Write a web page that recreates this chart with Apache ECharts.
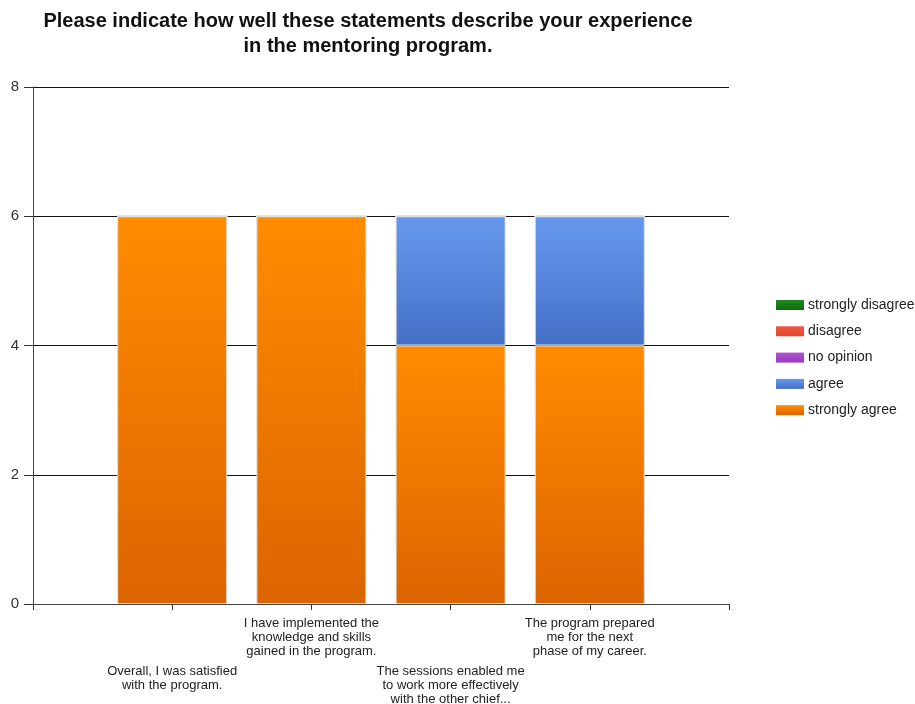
<!DOCTYPE html>
<html>
<head>
<meta charset="utf-8">
<script src="https://cdn.jsdelivr.net/npm/echarts@6/dist/echarts.min.js"></script>
<style>
  html, body { margin: 0; padding: 0; background: #ffffff; }
  #chart { width: 915px; height: 704px; }
</style>
</head>
<body>
<div id="chart"></div>
<script>
// Survey statements (blank slots at both ends keep the bars off the axes)
const categories = [
  '',
  'Overall, I was satisfied\nwith the program.',
  'I have implemented the\nknowledge and skills\ngained in the program.',
  'The sessions enabled me\nto work more effectively\nwith the other chief...',
  'The program prepared\nme for the next\nphase of my career.',
  ''
];

// Response counts per statement
const stronglyDisagree = ['-', 0, 0, 0, 0, '-'];
const disagree         = ['-', 0, 0, 0, 0, '-'];
const noOpinion        = ['-', 0, 0, 0, 0, '-'];
const agree            = ['-', 0, 0, 2, 2, '-'];
const stronglyAgree    = ['-', 6, 6, 4, 4, '-'];

const legendOrder = ['strongly disagree', 'disagree', 'no opinion', 'agree', 'strongly agree'];
const yTicks = { min: 0, max: 8, step: 2 };

const FONT = 'Liberation Sans, Arial, sans-serif';

function grad(top, bottom) {
  return new echarts.graphic.LinearGradient(0, 0, 0, 1, [
    { offset: 0, color: top },
    { offset: 1, color: bottom }
  ]);
}

function barSeries(name, data, top, bottom) {
  return {
    name: name,
    type: 'bar',
    stack: 'responses',
    xAxisIndex: 0,
    barWidth: 110,
    data: data,
    itemStyle: {
      color: grad(top, bottom),
      borderColor: '#dddddd',
      borderWidth: 1
    },
    emphasis: { disabled: true }
  };
}

const chart = echarts.init(document.getElementById('chart'));

const labelBase = {
  interval: 0,
  color: '#222',
  fontFamily: FONT,
  fontSize: 13,
  lineHeight: 14,
  align: 'center',
  verticalAlign: 'top'
};

chart.setOption({
  animation: false,
  backgroundColor: '#ffffff',
  title: {
    text: 'Please indicate how well these statements describe your experience\nin the mentoring program.',
    left: 363,
    top: 4,
    textAlign: 'center',
    textStyle: {
      fontFamily: FONT,
      fontSize: 20,
      fontWeight: 'bold',
      color: '#111',
      lineHeight: 25
    }
  },
  legend: {
    orient: 'vertical',
    left: 771,
    top: 293,
    itemWidth: 28,
    itemHeight: 10,
    itemGap: 12.3,
    icon: 'rect',
    data: legendOrder,
    itemStyle: { borderWidth: 0 },
    textStyle: { fontFamily: FONT, fontSize: 14, color: '#222', padding: [0, 0, 0, -1] }
  },
  grid: {
    left: 33, right: 186, top: 87, bottom: 100,
    containLabel: false,
    outerBoundsMode: 'none'
  },
  xAxis: [
    {
      type: 'category',
      data: categories,
      boundaryGap: false,
      axisLine: { show: true, lineStyle: { color: '#444', width: 1 } },
      axisTick: { show: true, interval: 0, length: 6, lineStyle: { color: '#333' } },
      axisLabel: Object.assign({}, labelBase, {
        margin: 12,
        formatter: (v, i) => (i % 2 === 0 ? v : '')
      }),
      splitLine: { show: false }
    },
    {
      type: 'category',
      data: categories,
      boundaryGap: false,
      position: 'bottom',
      axisLine: { show: false },
      axisTick: { show: false },
      axisLabel: Object.assign({}, labelBase, {
        margin: 60,
        formatter: (v, i) => (i % 2 === 1 ? v : '')
      }),
      splitLine: { show: false }
    }
  ],
  yAxis: {
    type: 'value',
    min: yTicks.min,
    max: yTicks.max,
    interval: yTicks.step,
    axisLine: { show: true, lineStyle: { color: '#444', width: 1 } },
    axisTick: { show: true, length: 9, lineStyle: { color: '#333' } },
    axisLabel: { color: '#333', fontFamily: FONT, fontSize: 15, margin: 14 },
    splitLine: { show: true, lineStyle: { color: '#111', width: 1 } }
  },
  series: [
    barSeries('strongly agree', stronglyAgree, '#ff8c00', '#dc6400'),
    barSeries('agree', agree, '#6699ee', '#4470c6'),
    barSeries('no opinion', noOpinion, '#b050d0', '#9a3cc0'),
    barSeries('disagree', disagree, '#f05a40', '#e04830'),
    barSeries('strongly disagree', stronglyDisagree, '#1e8a1e', '#106a10')
  ]
});
</script>
</body>
</html>
